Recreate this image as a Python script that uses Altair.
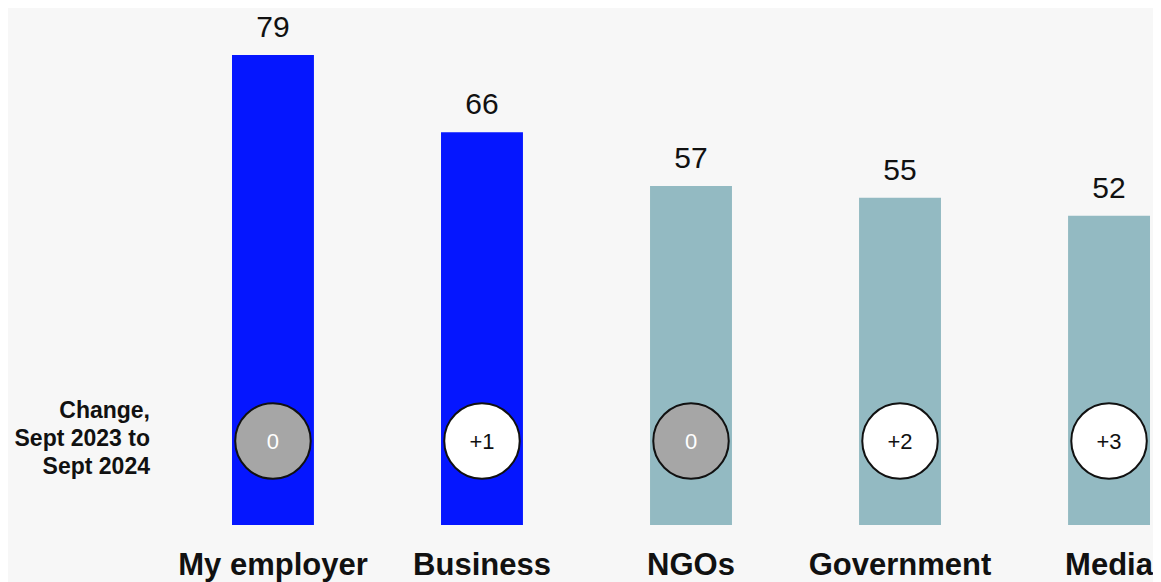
import altair as alt
import pandas as pd

categories = ["My employer", "Business", "NGOs", "Government", "Media"]
values = [79, 66, 57, 55, 52]
changes = [0, 1, 0, 2, 3]
groups = ["highlight", "highlight", "other", "other", "other"]
note_text = "Change,\nSept 2023 to\nSept 2024"

df = pd.DataFrame({"category": categories, "value": values, "change": changes, "group": groups})
df["change_label"] = [("+%d" % c) if c > 0 else str(c) for c in changes]
df["circle_kind"] = ["flat" if c == 0 else "up" for c in changes]

FONT = "Liberation Sans"

x = alt.X(
    "category:N",
    sort=categories,
    scale=alt.Scale(paddingInner=0.608, paddingOuter=0),
    axis=alt.Axis(
        title=None, ticks=False, domain=False, grid=False,
        labelFont=FONT, labelFontSize=31, labelFontWeight="bold",
        labelColor="#111111", labelPadding=49, labelBaseline="alphabetic",
        labelAngle=0, labelLimit=0,
    ),
)
y = alt.Y("value:Q", scale=alt.Scale(domain=[0, 79], nice=False, zero=True), axis=None)

base = alt.Chart(df)

bars = base.mark_bar().encode(
    x=x,
    y=y,
    color=alt.Color("group:N", scale=alt.Scale(domain=["highlight", "other"], range=["#0516ff", "#93bac2"]), legend=None),
)

value_labels = base.mark_text(
    dy=-18, baseline="alphabetic", fontSize=30, font=FONT, color="#111111"
).encode(x=x, y=y, text="value:Q")

circles = base.mark_circle(size=5700, stroke="#111111", strokeWidth=2, opacity=1).encode(
    x=x,
    y=alt.value(386),
    color=alt.Color("circle_kind:N", scale=alt.Scale(domain=["flat", "up"], range=["#a6a6a6", "#ffffff"]), legend=None),
)

circle_text = base.mark_text(baseline="middle", fontSize=22, font=FONT).encode(
    x=x,
    y=alt.value(387),
    text="change_label:N",
    color=alt.Color("circle_kind:N", scale=alt.Scale(domain=["flat", "up"], range=["#ffffff", "#111111"]), legend=None),
)

note = alt.Chart(pd.DataFrame({"note": [note_text]})).mark_text(
    align="right", baseline="alphabetic", lineBreak="\n", fontSize=23,
    fontWeight="bold", lineHeight=28, font=FONT, color="#111111",
).encode(x=alt.value(-82), y=alt.value(363), text="note:N")

chart = alt.layer(bars, value_labels, circles, circle_text, note).resolve_scale(color="independent").properties(
    width=918,
    height=470,
    padding={"left": 224, "top": 47, "right": 3, "bottom": 57},
    autosize="none",
    background="#f7f7f7",
).configure_view(stroke=None)

chart.save("out.html", embed_options={"renderer": "svg", "actions": False})
